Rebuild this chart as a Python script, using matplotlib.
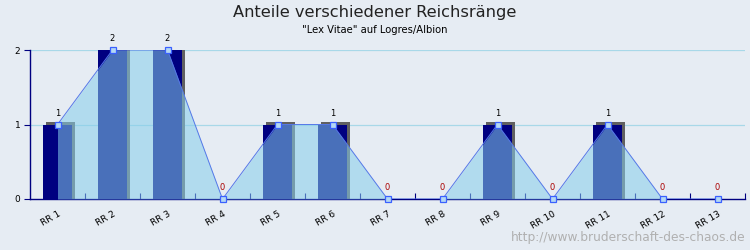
import numpy as np
import matplotlib
matplotlib.use('Agg')
import matplotlib.pyplot as plt

# Data
categories = ['RR 1', 'RR 2', 'RR 3', 'RR 4', 'RR 5', 'RR 6', 'RR 7',
              'RR 8', 'RR 9', 'RR 10', 'RR 11', 'RR 12', 'RR 13']
values = [1, 2, 2, 0, 1, 1, 0, 0, 1, 0, 1, 0, 0]
y_ticks = [0, 1, 2]

bg = '#e6ecf3'
x = np.arange(len(categories))
v = np.array(values)

fig = plt.figure(figsize=(7.5, 2.5), dpi=100, facecolor=bg)
ax = fig.add_axes([30 / 750, 1 - 199 / 250, 715 / 750, 149 / 250])
ax.set_facecolor(bg)
ax.set_xlim(-0.5, len(categories) - 0.5)
ax.set_ylim(0, 2)

# grid
for t in y_ticks[1:]:
    ax.axhline(t, color='#a8d8e8', lw=0.9, zorder=0)

# 3D-ish bars: shadow then navy front
bw = 29 / 55
dx = 3 / 55
dy = 3 / 149 * 2
ax.bar(x + dx, np.where(v > 0, v + dy, 0), width=bw, color='#606060', zorder=1)
ax.bar(x, v, width=bw, color='#000080', zorder=2)

# area + line on top
ax.fill_between(x, v, 0, color='skyblue', alpha=0.55, lw=0, zorder=3)
ax.plot(x, v, color='#5578e8', lw=0.7, zorder=4)
ax.plot(x, v, 's', ms=5, mfc='#b4d8f4', mec='#3a60ff', mew=0.9, zorder=5,
        clip_on=False)

# value labels
for xi, vi in zip(x, v):
    col = 'black' if vi > 0 else '#aa0000'
    ax.text(xi, vi + 0.09, str(vi), ha='center', va='bottom', fontsize=6,
            color=col, clip_on=False, zorder=6)

# axes styling
for s in ['top', 'right']:
    ax.spines[s].set_visible(False)
for s in ['left', 'bottom']:
    ax.spines[s].set_color('#000080')
    ax.spines[s].set_linewidth(1.0)
ax.set_yticks(y_ticks)
ax.set_yticklabels([str(t) for t in y_ticks], fontsize=6.5)
ax.tick_params(axis='y', direction='out', length=4, color='#000080', pad=3)
ax.set_xticks(x + 0.5, minor=False)
ax.set_xticklabels([])
ax.tick_params(axis='x', direction='in', length=4, color='#000080')
for xi, lab in zip(x, categories):
    ax.text(xi, -0.14, lab, rotation=30, ha='right', va='top', fontsize=6.5,
            rotation_mode='anchor', transform=ax.transData, clip_on=False)

fig.text(0.5, 1 - 12 / 250, 'Anteile verschiedener Reichsränge',
         ha='center', va='center', fontsize=11.7, color='#222222')
fig.text(0.5, 1 - 30 / 250, '"Lex Vitae" auf Logres/Albion',
         ha='center', va='center', fontsize=7.2, color='black')
fig.text(1 - 5 / 750, 1 - 238 / 250, 'http://www.bruderschaft-des-chaos.de',
         ha='right', va='center', fontsize=8.8, color='#b0b0b0')

fig.savefig('out.png', dpi=100, facecolor=bg)
